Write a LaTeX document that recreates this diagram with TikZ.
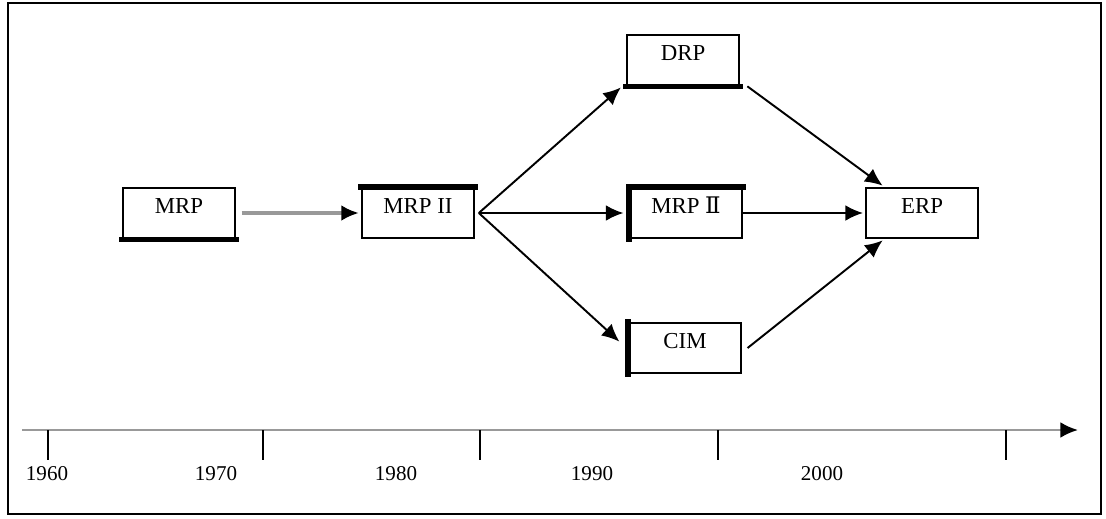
\documentclass[tikz,border=0pt]{standalone}
\usepackage{fontspec}
\setmainfont{Liberation Serif}
\newfontfamily\romfont{DejaVu Serif}
\usetikzlibrary{arrows.meta}
\begin{document}
\begin{tikzpicture}[
    x=0.02cm, y=-0.02cm,
    every node/.style={font=\fontsize{12}{14}\selectfont, inner sep=0pt},
    box/.style={rectangle, draw=black, line width=1.5pt, minimum width=2.24cm, minimum height=1cm,
                text height=11pt, text depth=11pt, font=\fontsize{13}{15}\selectfont},
    heavy/.style={line width=3.2pt, line cap=rect},
    arr/.style={-{Latex[length=10pt, width=9pt]}, line width=1.1pt, shorten >=1pt},
    axis/.style={black!40, line width=1.4pt},
    tick/.style={black, line width=1.6pt}
]
\useasboundingbox (0,0) rectangle (1106,518);
\draw[line width=1.3pt] (8,3) rectangle (1101,514);

% boxes
\node[box] (mrp)   at (179,213) {MRP};
\node[box] (mrpii) at (418,213) {MRP II};
\node[box] (drp)   at (683,60)  {DRP};
\node[box] (mrpiii) at (686,213) {MRP {\romfont Ⅱ}};
\node[box] (erp)   at (922,213) {ERP};
\node[box] (cim)   at (685,348) {CIM};

% heavy edges
\draw[heavy] (mrp.south west)    -- (mrp.south east);
\draw[heavy] (mrpii.north west)  -- (mrpii.north east);
\draw[heavy] (drp.south west)    -- (drp.south east);
\draw[heavy] (mrpiii.south west) -- (mrpiii.north west) -- (mrpiii.north east);
\draw[heavy] (cim.south west)    -- (cim.north west);

% arrows
\draw[arr, black!40, line width=2pt, -{Latex[length=10pt, width=9pt, color=black]}]
    ([xshift=3pt]mrp.east) -- (mrpii.west);
\draw[arr] ([xshift=2pt]mrpii.east) -- ([xshift=-2pt]drp.south west);
\draw[arr] ([xshift=2pt]mrpii.east) -- ([xshift=-2pt]mrpiii.west);
\draw[arr] ([xshift=2pt]mrpii.east) -- ([xshift=-4pt, yshift=-12pt]cim.north west);
\draw[arr] ([xshift=4pt]drp.south east) -- ([xshift=11pt]erp.north west);
\draw[arr] (mrpiii.east) -- (erp.west);
\draw[arr] ([xshift=3pt]cim.east) -- ([xshift=11pt]erp.south west);

% time axis
\coordinate (t0) at (22,430);
\coordinate (t1) at (1078,430);
\draw[axis, -{Latex[length=10pt, width=9pt, color=black]}] (t0) -- (t1);
\foreach \tx in {48,263,480,718,1006}
    \draw[tick] (\tx,430) -- (\tx,460);
\foreach \lx/\yr in {47/1960, 216/1970, 396/1980, 592/1990, 822/2000}
    \node (y\yr) at (\lx,474) {\yr};
\end{tikzpicture}
\end{document}
